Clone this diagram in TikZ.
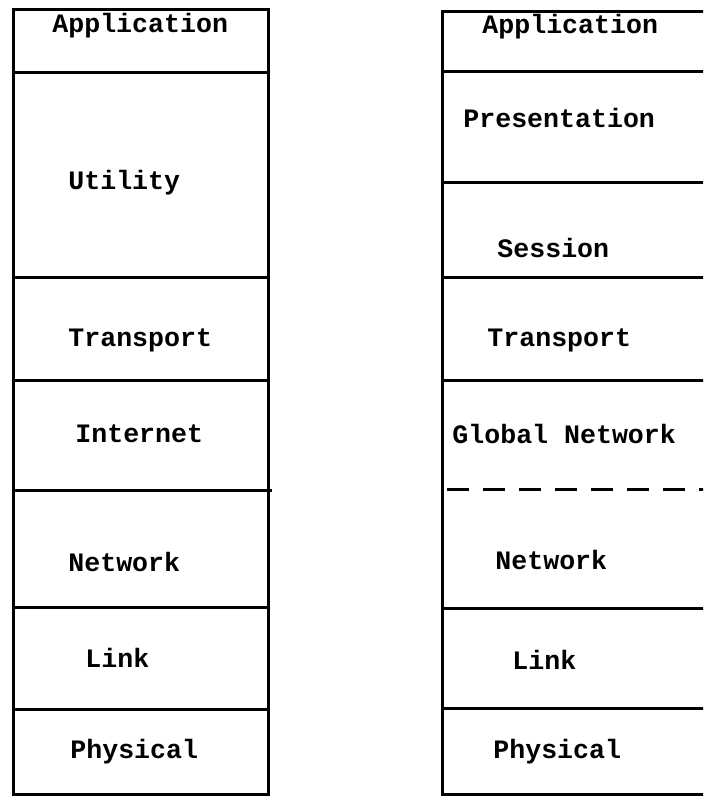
\documentclass[tikz,border=0pt]{standalone}
\usepackage{fontspec}
\setmonofont{Liberation Mono}
\usetikzlibrary{positioning}

\begin{document}
\begin{tikzpicture}[
    x=0.5pt, y=-0.5pt,
    layer/.style={anchor=west, inner sep=0pt, font=\fontsize{13.3}{15}\selectfont\ttfamily\bfseries},
    rule/.style={line width=1.5pt},
    split/.style={line width=1.5pt, dash pattern=on 11pt off 7pt}
]
    \useasboundingbox (0,0) rectangle (703,796);
    \clip (0,0) rectangle (703,796);

    % Left stack
    \draw[rule] (13,10) rectangle (268,794);
    \draw[rule] (13,73) -- (268,73);
    \draw[rule] (13,278) -- (268,278);
    \draw[rule] (13,380) -- (268,380);
    \draw[rule] (13,490) -- (272,490);
    \draw[rule] (13,607) -- (268,607);
    \draw[rule] (13,709) -- (268,709);

    \node[layer] (lapp) at (52,26) {Application};
    \node[layer] (util) at (68,183) {Utility};
    \node[layer] (ltrans) at (68,340) {Transport};
    \node[layer] (inet) at (75,434) {Internet};
    \node[layer] (lnet) at (68,562) {Network};
    \node[layer] (llink) at (85,658) {Link};
    \node[layer] (lphys) at (70,752) {Physical};

    % Right stack (runs off the right edge)
    \draw[rule] (442,12) rectangle (720,794);
    \draw[rule] (442,72) -- (720,72);
    \draw[rule] (442,183) -- (720,183);
    \draw[rule] (442,278) -- (720,278);
    \draw[rule] (442,380) -- (720,380);
    \draw[split] (447,489) -- (720,489);
    \draw[rule] (442,608) -- (720,608);
    \draw[rule] (442,708) -- (720,708);

    \node[layer] (rapp) at (482,27) {Application};
    \node[layer] (pres) at (463,118) {Presentation};
    \node[layer] (sess) at (497,248) {Session};
    \node[layer] (rtrans) at (487,340) {Transport};
    \node[layer] (gnet) at (452,434) {Global Network};
    \node[layer] (rnet) at (495,560) {Network};
    \node[layer] (rlink) at (512,660) {Link};
    \node[layer] (rphys) at (493,752) {Physical};

\end{tikzpicture}
\end{document}
